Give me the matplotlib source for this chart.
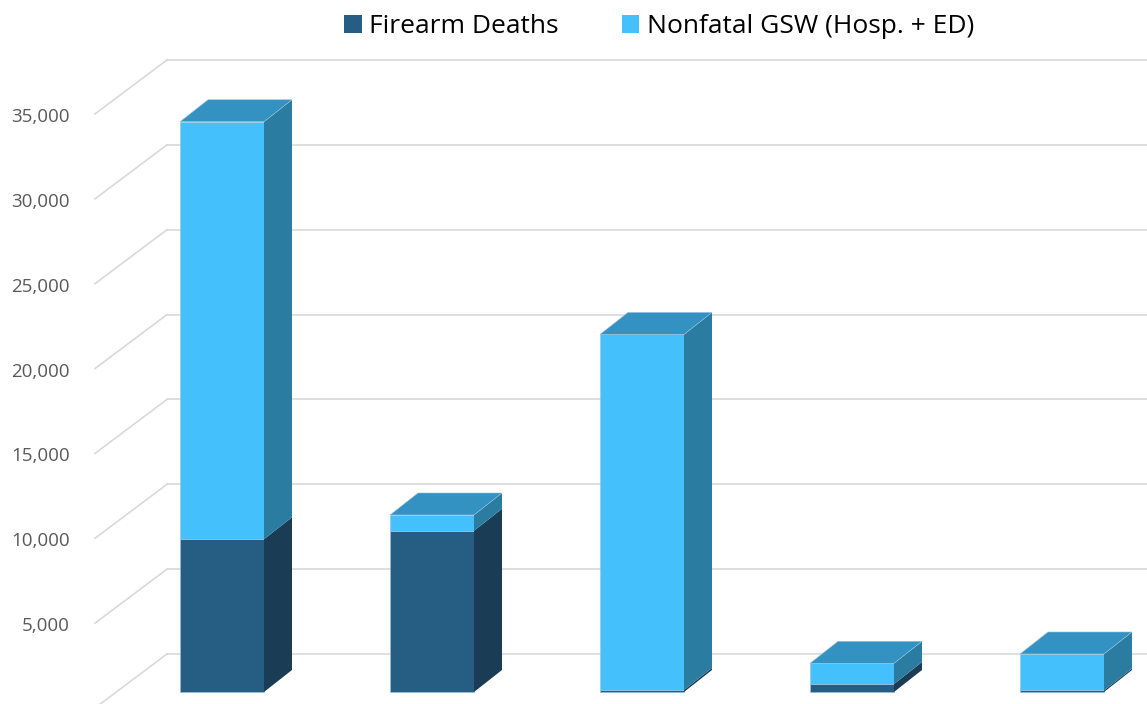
#!/usr/bin/env python
"""
Firearm injury chart: deaths vs nonfatal gunshot wounds, drawn as
pseudo-3D stacked columns (Excel style).

Output: out.png
"""

import matplotlib
matplotlib.use('Agg')
import matplotlib.pyplot as plt
from matplotlib.patches import Polygon, Patch

# Data
categories = ['Group 1', 'Group 2', 'Group 3', 'Group 4', 'Group 5']
deaths = [9000, 9500, 120, 470, 90]
nonfatal = [24600, 930, 20950, 1220, 2150]
y_ticks = [0, 5000, 10000, 15000, 20000, 25000, 30000, 35000]
y_tick_labels = ['', '5,000', '10,000', '15,000', '20,000', '25,000', '30,000', '35,000']
series_names = ['Firearm Deaths', 'Nonfatal GSW (Hosp. + ED)']

# Colours
DEATH_FRONT = '#265D83'
DEATH_SIDE = '#1A3D55'
GSW_FRONT = '#44C0FC'
GSW_SIDE = '#2B7CA1'
TOP_FACE = '#3492C2'
GRID = '#D9D9D9'
TEXT = '#595959'

# Layout (pixels in a 1147x704 image)
W_PX, H_PX, DPI = 1147, 704, 100
PX_PER_CAT = 210.0
PX_PER_5000 = 84.86
BASE_Y_PX = 692.0       # baseline of the bar front faces
FIRST_X_PX = 222.0      # centre of first bar
BAR_W = 0.4             # in category units


def px_dx(px):
    return px / PX_PER_CAT


def px_dy(px):
    return px * 5000.0 / PX_PER_5000


def main():
    plt.rcParams['font.family'] = ['Open Sans', 'DejaVu Sans']

    fig = plt.figure(figsize=(W_PX / DPI, H_PX / DPI), dpi=DPI)
    ax = fig.add_axes([0, 0, 1, 1])
    ax.set_xlim(-px_dx(FIRST_X_PX), px_dx(W_PX - FIRST_X_PX))
    ax.set_ylim(-px_dy(H_PX - BASE_Y_PX), px_dy(BASE_Y_PX))
    ax.axis('off')

    # depth vectors (data units)
    wall_dx, wall_dy = px_dx(50), px_dy(38)       # bar face -> back wall
    front_dx, front_dy = px_dx(-22), px_dy(-16)   # bar face -> front of floor
    bar_dx, bar_dy = px_dx(28), px_dy(22)         # bar depth
    wall_left = px_dx(167 - FIRST_X_PX) - wall_dx

    # walls / gridlines
    xmax = ax.get_xlim()[1]
    for v, lab in zip(y_ticks, y_tick_labels):
        xb, yb = wall_left + wall_dx, v + wall_dy
        xf, yf = wall_left + front_dx, v + front_dy
        ax.plot([xb, xmax], [yb, yb], color=GRID, lw=1.2, zorder=1)
        ax.plot([xf, xb], [yf, yb], color=GRID, lw=1.2, zorder=1)
        ax.text(px_dx(70 - FIRST_X_PX), yf - px_dy(3), lab, ha='right',
                va='center', fontsize=13.5, color=TEXT)

    # bars
    x_pos = list(range(len(categories)))
    ax.bar(x_pos, deaths, width=BAR_W, color=DEATH_FRONT, zorder=3,
           edgecolor='#9CC3DA', linewidth=0.4)
    ax.bar(x_pos, nonfatal, width=BAR_W, bottom=deaths, color=GSW_FRONT,
           zorder=3, edgecolor='#9CC3DA', linewidth=0.4)

    for x, d, n in zip(x_pos, deaths, nonfatal):
        r = x + BAR_W / 2
        l = x - BAR_W / 2
        for y0, y1, c in [(0, d, DEATH_SIDE), (d, d + n, GSW_SIDE)]:
            side = [(r, y0), (r + bar_dx, y0 + bar_dy),
                    (r + bar_dx, y1 + bar_dy), (r, y1)]
            ax.add_patch(Polygon(side, closed=True, facecolor=c,
                                 edgecolor='none', zorder=3))
        top = d + n
        top_face = [(l, top), (r, top), (r + bar_dx, top + bar_dy),
                    (l + bar_dx, top + bar_dy)]
        ax.add_patch(Polygon(top_face, closed=True, facecolor=TOP_FACE,
                             edgecolor='#9CC3DA', linewidth=0.4, zorder=3))

    # legend
    handles = [Patch(facecolor=DEATH_FRONT), Patch(facecolor=GSW_FRONT)]
    fig.legend(handles, series_names, loc='center', ncol=2,
               bbox_to_anchor=(0.575, 0.962), frameon=False, fontsize=19,
               handlelength=0.65, handleheight=0.65, handletextpad=0.3,
               columnspacing=2.4)

    fig.savefig('out.png', dpi=DPI, facecolor='white')


if __name__ == '__main__':
    main()
